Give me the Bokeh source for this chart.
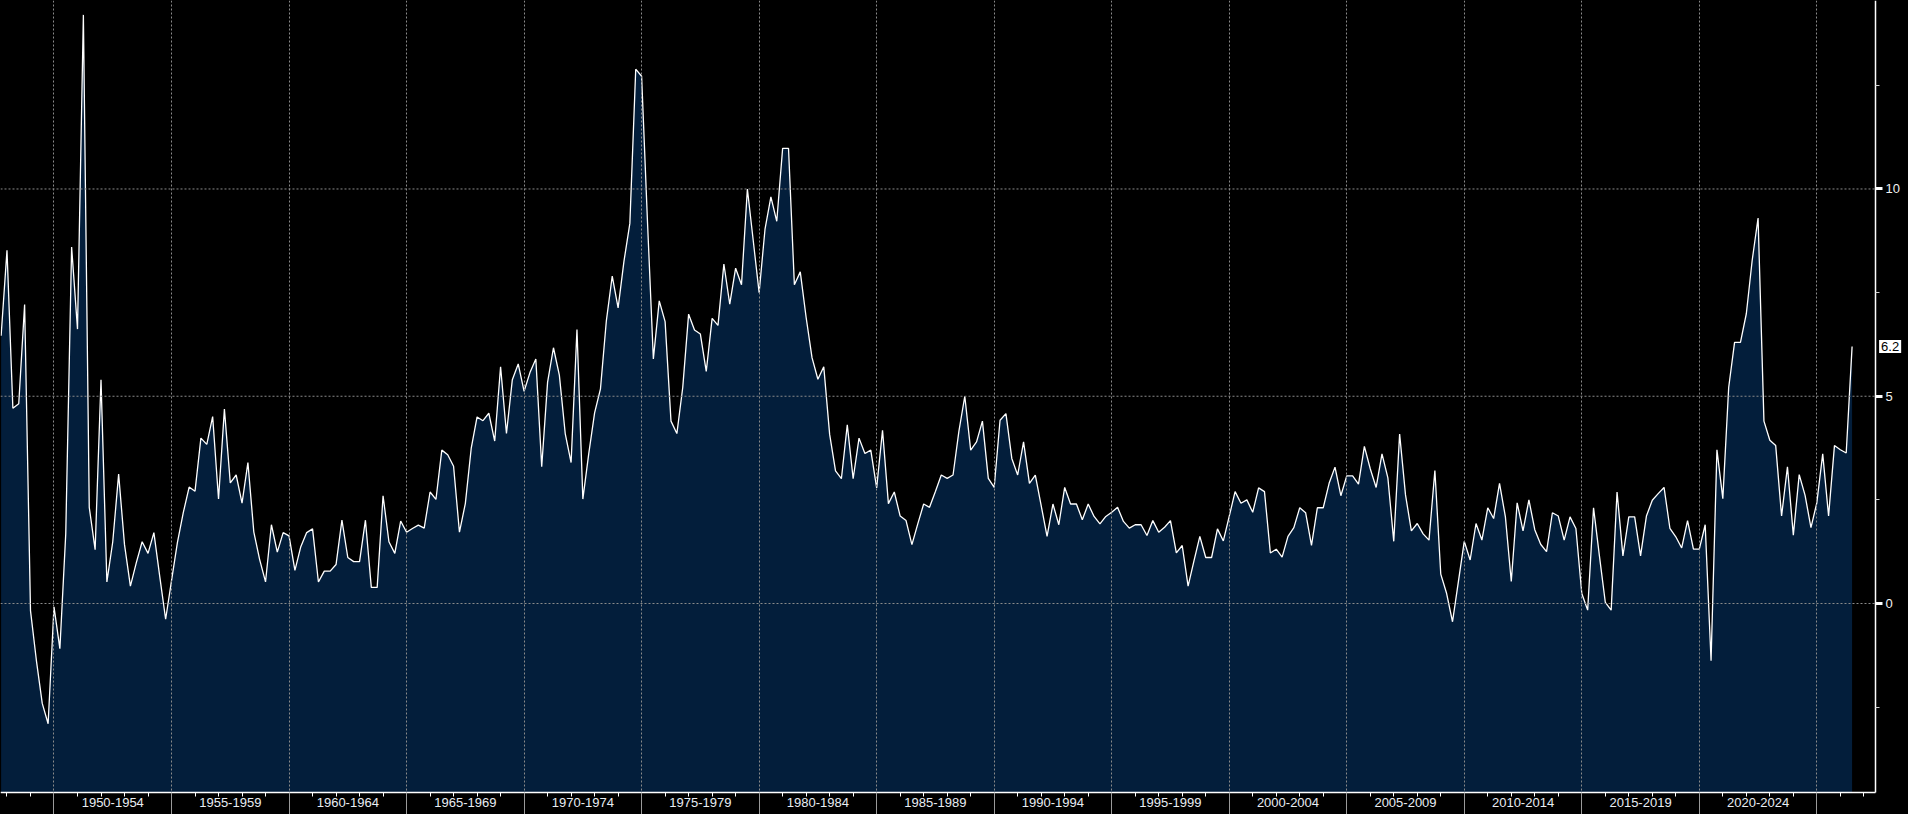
from bokeh.plotting import figure
from bokeh.models import (LinearAxis, FixedTicker, Grid, Range1d, Label,
                          ColumnDataSource, GlobalInlineStyleSheet)
from bokeh.embed import file_html
from bokeh.resources import INLINE

# ---------------- data (quarterly, % change) ----------------
start_year = 1947.75      # first quarterly observation
quarter_step = 0.25

vals_1947_1964 = [6.46, 8.52, 4.71, 4.82, 7.21, -0.17, -1.37, -2.41, -2.90, -0.08,
                  -1.09, 1.68, 8.60, 6.62, 14.20, 2.32, 1.30, 5.40, 0.52, 1.49,
                  3.12, 1.42, 0.42, 0.98, 1.49, 1.21, 1.71, 0.65, -0.38, 0.55,
                  1.47, 2.19, 2.81, 2.71, 3.99, 3.84, 4.51, 2.52, 4.69, 2.91,
                  3.10, 2.42, 3.40, 1.73, 1.06, 0.52, 1.90, 1.24, 1.71, 1.63,
                  0.80, 1.37, 1.71, 1.80, 0.52, 0.78, 0.78, 0.94, 2.01, 1.11,
                  1.01, 1.01, 2.01, 0.39, 0.39, 2.60, 1.49, 1.21, 1.99]
vals_1965_1975 = [1.72, 1.81, 1.89, 1.82, 2.69, 2.51, 3.70, 3.59, 3.31, 1.72,
                  2.41, 3.74, 4.50, 4.41, 4.59, 3.92, 5.71, 4.10, 5.40, 5.78,
                  5.12, 5.57, 5.90, 3.30, 5.34, 6.17, 5.51, 4.10, 3.40, 6.61,
                  2.52, 3.61, 4.60, 5.18, 6.82, 7.90, 7.13, 8.26, 9.17, 12.89,
                  12.72, 9.21, 5.90]
vals_1975_1986 = [7.30, 6.80, 4.40, 4.10, 5.21, 6.98, 6.60, 6.50, 5.60, 6.88,
                  6.71, 8.19, 7.22, 8.09, 7.69, 10.00, 8.75, 7.50, 9.03, 9.81,
                  9.22, 10.98, 10.98, 7.69, 8.00, 6.90, 5.93, 5.41, 5.71, 4.08,
                  3.20, 3.01, 4.31, 3.01, 3.99, 3.62, 3.70, 2.79, 4.18, 2.41,
                  2.69, 2.11, 2.00]
vals_1986_1996 = [1.42, 1.92, 2.40, 2.32, 2.70, 3.10, 3.02, 3.10, 4.16, 5.00,
                  3.70, 3.90, 4.40, 3.02, 2.80, 4.42, 4.58, 3.50, 3.10, 3.90,
                  2.90, 3.10, 2.36, 1.62, 2.40, 1.90, 2.80, 2.40, 2.40, 2.02,
                  2.40, 2.10, 1.92, 2.10, 2.20, 2.32, 1.98, 1.82, 1.90, 1.90,
                  1.64, 2.00]
vals_1997_2007 = [1.72, 1.84, 2.00, 1.22, 1.40, 0.42, 1.03, 1.62, 1.11, 1.11,
                  1.80, 1.51, 2.10, 2.70, 2.42, 2.50, 2.20, 2.79, 2.70, 1.22,
                  1.31, 1.12, 1.62, 1.83, 2.31, 2.19, 1.40, 2.31, 2.31, 2.90,
                  3.29, 2.60, 3.08, 3.08, 2.88, 3.79, 3.25, 2.80, 3.61, 3.03,
                  1.50, 4.09]
vals_2007_2026 = [2.62, 1.75, 1.93, 1.68, 1.53, 3.21, 0.71, 0.24, -0.44, 0.53,
                  1.50, 1.05, 1.93, 1.53, 2.31, 2.05, 2.90, 2.09, 0.53, 2.43,
                  1.75, 2.50, 1.78, 1.43, 1.25, 2.19, 2.11, 1.53, 2.09, 1.81,
                  0.24, -0.16, 2.31, 1.15, 0.03, -0.16, 2.69, 1.15, 2.09, 2.09,
                  1.15, 2.11, 2.49, 2.65, 2.80, 1.81, 1.61, 1.34, 2.00, 1.31,
                  1.31, 1.90, -1.38, 3.71, 2.53, 5.21, 6.30, 6.30, 6.99, 8.28,
                  9.30, 4.40, 3.94, 3.81, 2.11, 3.30, 1.65, 3.11, 2.61, 1.83,
                  2.43, 3.61, 2.11, 3.81, 3.71, 3.63, 6.20]

period_starts = list(range(1950, 2025, 5))
period_labels = ["%d-%d" % (s, s + 4) for s in period_starts]
boundary_years = list(range(1950, 2030, 5))
minor_years = list(range(1948, 2028))
y_major_ticks = [0, 5, 10]
y_minor_ticks = [-2.5, 2.5, 7.5, 12.5]

values = (vals_1947_1964 + vals_1965_1975 + vals_1975_1986 +
          vals_1986_1996 + vals_1997_2007 + vals_2007_2026)
dates = [start_year + quarter_step * i for i in range(len(values))]

# ---------------- layout constants ----------------
X_RANGE = (1947.724, 2028.90)   # frame covers the whole canvas
Y_RANGE = (-5.090, 14.547)
AXIS_X = 2027.5                 # location of the value axis
AXIS_Y = -4.56                  # location of the time axis

FONT = "Liberation Sans"
GRID_COLOR = "#8a8a8a"
FILL_COLOR = "#031e3b"

src = ColumnDataSource(dict(t=dates, v=values, base=[AXIS_Y] * len(values)))

p = figure(width=1908, height=814, output_backend="svg", toolbar_location=None,
           x_range=Range1d(*X_RANGE), y_range=Range1d(*Y_RANGE),
           x_axis_type=None, y_axis_type=None,
           background_fill_color="black", border_fill_color="black",
           outline_line_color=None, min_border=0)
p.stylesheets = [GlobalInlineStyleSheet(css="html, body { background-color: #000; }")]

# area + line
p.varea(x="t", y1="base", y2="v", source=src, fill_color=FILL_COLOR)
p.line(x="t", y="v", source=src, line_color="white", line_width=1.3)

# dotted grid
vgrid = Grid(dimension=0, ticker=FixedTicker(ticks=boundary_years),
             grid_line_color=GRID_COLOR, grid_line_dash="2 2", level="glyph")
p.add_layout(vgrid)
p.segment(x0=[X_RANGE[0]] * len(y_major_ticks), x1=[AXIS_X] * len(y_major_ticks),
          y0=y_major_ticks, y1=y_major_ticks,
          line_color=GRID_COLOR, line_dash="2 2", line_width=1)

# value axis on the right
yax = LinearAxis(ticker=FixedTicker(ticks=y_major_ticks, minor_ticks=y_minor_ticks),
                 fixed_location=AXIS_X, bounds=(AXIS_Y, Y_RANGE[1]),
                 axis_line_color="white", axis_line_width=1.5,
                 major_tick_in=0, major_tick_out=7, major_tick_line_color="white",
                 major_tick_line_width=3,
                 minor_tick_in=0, minor_tick_out=4, minor_tick_line_color="#cfcfcf",
                 major_label_standoff=3, major_label_text_color="#f2f2f2",
                 major_label_text_font=FONT, major_label_text_font_size="13px")
p.add_layout(yax, "right")

# time axis with period labels
mids = [s + 2.5 for s in period_starts]
xax = LinearAxis(ticker=FixedTicker(ticks=mids, minor_ticks=minor_years),
                 fixed_location=AXIS_Y, bounds=(X_RANGE[0], AXIS_X),
                 axis_line_color="white", axis_line_width=1.5,
                 major_tick_in=0, major_tick_out=0,
                 minor_tick_in=0, minor_tick_out=4, minor_tick_line_color="white",
                 major_label_standoff=1, major_label_text_color="#e8edf3",
                 major_label_text_font=FONT, major_label_text_font_size="13px",
                 major_label_overrides={m: lab for m, lab in zip(mids, period_labels)})
p.add_layout(xax, "below")

# separator ticks at the period boundaries
sep = LinearAxis(ticker=FixedTicker(ticks=boundary_years, minor_ticks=[]),
                 fixed_location=AXIS_Y,
                 axis_line_color=None,
                 major_tick_in=0, major_tick_out=24, major_tick_line_color="#9a9a9a",
                 minor_tick_in=0, minor_tick_out=0,
                 major_label_standoff=0, major_label_text_font_size="1px",
                 major_label_overrides={b: "" for b in boundary_years})
p.add_layout(sep, "below")

# last value tag
last_tag = Label(x=dates[-1], y=values[-1], text="%.1f" % values[-1],
                 x_offset=27, text_baseline="middle", text_align="left",
                 text_color="black", text_font=FONT, text_font_size="13px",
                 background_fill_color="white", padding=2)
p.add_layout(last_tag)

open("out.html", "w").write(file_html(p, INLINE))
